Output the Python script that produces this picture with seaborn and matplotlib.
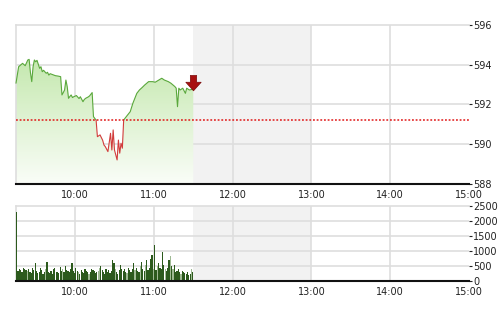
import numpy as np
import matplotlib
matplotlib.use("Agg")
import matplotlib.pyplot as plt
import seaborn as sns
from matplotlib.colors import LinearSegmentedColormap
from matplotlib.patches import Rectangle
from matplotlib.path import Path

# ---- data (time = minutes after 09:00) ----
price_t = [15, 17, 20, 22, 24, 25, 26, 27, 28, 29, 30, 31, 33, 34, 35, 36, 38, 39, 40, 41,
           43, 45, 47, 49, 50, 51, 52, 53, 54, 55, 56, 57, 58, 59, 61, 63, 64, 66, 67, 68,
           70, 71, 73, 74, 75, 76, 77, 79, 81, 82, 83, 85, 87, 88, 89, 90, 92, 93, 94, 95,
           96, 97, 99, 102, 104, 107, 109, 111, 113, 116, 119, 121, 123, 126, 128, 131, 133, 136, 137, 138,
           139, 140, 142, 144, 145, 147, 150]
price_v = [593.07, 593.90, 594.07, 593.95, 594.24, 594.27, 593.60, 593.15, 593.90, 594.24,
           594.15, 594.22, 593.82, 593.90, 593.65, 593.72, 593.57, 593.62, 593.48, 593.55,
           593.50, 593.45, 593.43, 593.40, 592.48, 592.60, 592.73, 593.23, 592.90, 592.31,
           592.40, 592.48, 592.35, 592.39, 592.45, 592.30, 592.39, 592.14, 592.25, 592.31,
           592.38, 592.43, 592.60, 591.39, 591.30, 591.22, 590.38, 590.47, 590.20, 589.96,
           589.88, 589.63, 590.55, 589.71, 590.72, 589.71, 589.21, 590.21, 589.55, 590.05,
           589.80, 591.22, 591.39, 591.64, 592.06, 592.56, 592.73, 592.85, 592.98, 593.15,
           593.15, 593.12, 593.20, 593.32, 593.23, 593.15, 593.07, 592.90, 592.82, 591.89,
           592.82, 592.73, 592.82, 592.56, 592.82, 592.73, 592.77]
ref_price = 591.2

vol_start = 15
volume = [2300, 350, 420, 380, 300, 450, 400, 380, 350, 420, 300, 280, 450, 380, 600, 350, 280, 320, 450, 380,
          250, 300, 420, 650, 300, 280, 350, 250, 400, 450, 320, 300, 280, 480, 350, 400, 300, 520, 380, 350,
          300, 420, 600, 350, 280,
          450, 350, 300, 250, 380, 320, 280, 400, 350, 300, 250, 300, 420, 380, 350, 280, 300, 350, 450, 500,
          380, 300, 250, 400, 320, 380, 280, 350, 700, 600, 400, 300, 250, 380, 550, 420, 350, 400, 300, 280,
          450, 380, 300, 420, 600,
          380, 450, 350, 300, 500, 650, 400, 350, 550, 700, 380, 450, 750, 860, 400, 1200, 380, 500, 600, 450,
          400, 970, 550, 400, 350, 450, 700, 830, 500, 400, 550, 300, 350, 400, 300, 250, 350, 300, 280, 250,
          300, 200, 250, 400, 300]
light_idx = [8, 22, 35, 47, 55, 62, 63, 75, 84, 90, 94, 98, 104, 107, 113, 117, 119, 125, 133]

hour_ticks = [60, 120, 180, 240, 300, 360]
hour_labels = ["10:00", "11:00", "12:00", "13:00", "14:00", "15:00"]
price_ticks = [588, 590, 592, 594, 596]
vol_ticks = [0, 500, 1000, 1500, 2000, 2500]
lunch = (150, 240)

# ---- style ----
sns.set_theme(style="white")
plt.rcParams['font.family'] = ['Liberation Sans Narrow', 'DejaVu Sans']
grid_c = "#dedede"
txt_c = "#222222"

fig = plt.figure(figsize=(5, 3.12), dpi=100)
ax1 = fig.add_axes([0.032, 0.4103, 0.906, 0.5096])
ax2 = fig.add_axes([0.032, 0.0978, 0.906, 0.2429])

def style_axis(ax, yticks, ylim):
    ax.set_xlim(15, 360)
    ax.set_ylim(*ylim)
    ax.axvspan(lunch[0], lunch[1], color="#f2f2f2", zorder=0, lw=0)
    for v in hour_ticks[:-1]:
        ax.axvline(v, color=grid_c, lw=1.2, zorder=0.5)
    for v in yticks[1:-1]:
        ax.axhline(v, color=grid_c, lw=1.2, zorder=0.5)
    ax.set_xticks(hour_ticks)
    ax.set_xticklabels(hour_labels)
    ax.set_yticks(yticks)
    ax.yaxis.tick_right()
    ax.tick_params(axis="x", length=0, pad=4, labelsize=7, colors=txt_c)
    ax.tick_params(axis="y", length=2, width=0.8, pad=1, labelsize=7, colors=txt_c,
                   direction="out", left=False, right=True)
    ax.spines["top"].set_color(grid_c)
    ax.spines["top"].set_linewidth(1.2)
    ax.spines["left"].set_color(grid_c)
    ax.spines["left"].set_linewidth(1.2)
    ax.spines["right"].set_visible(False)
    ax.spines["bottom"].set_color("#111111")
    ax.spines["bottom"].set_linewidth(1.5)
    ax.spines["bottom"].set_zorder(5)
    ax.set_xlabel("")
    ax.set_ylabel("")
    ax.set_facecolor("white")

style_axis(ax1, price_ticks, (588, 596))
style_axis(ax2, vol_ticks, (0, 2500))

# ---- price panel ----
t = np.array(price_t, dtype=float)
p = np.array(price_v, dtype=float)
poly = ax1.fill_between(t, p, 588, color="none", lw=0)
cmap = LinearSegmentedColormap.from_list("g", ["#fafdf8", "#e0f3d4", "#c4e8ae"])
grad = np.linspace(0, 1, 256).reshape(-1, 1)
im = ax1.imshow(grad, extent=[15, 150, 588, 594.3], origin="lower", cmap=cmap,
                aspect="auto", zorder=1)
im.set_clip_path(poly.get_paths()[0], transform=ax1.transData)
ax1.set_xlim(15, 360)
ax1.set_ylim(588, 596)

sns.lineplot(x=t, y=p, ax=ax1, color="#5aa83c", lw=0.8, zorder=3)
line_g = ax1.lines[-1]
rect_up = Rectangle((0, ref_price), 400, 10, transform=ax1.transData)
line_g.set_clip_path(rect_up)
sns.lineplot(x=t, y=p, ax=ax1, color="#d23c3c", lw=0.8, zorder=3)
line_r = ax1.lines[-1]
rect_dn = Rectangle((0, 580), 400, ref_price - 580, transform=ax1.transData)
line_r.set_clip_path(rect_dn)

ax1.axhline(ref_price, color="#e01818", lw=1.1, ls=(0, (1.2, 1.2)), zorder=4)

arrow = Path([(-0.35, 1.0), (0.35, 1.0), (0.35, 0.25), (0.85, 0.25), (0.0, -0.7),
              (-0.85, 0.25), (-0.35, 0.25), (-0.35, 1.0)])
ax1.plot([price_t[-1]], [593.03], marker=arrow, markersize=13, color="#a81010",
         markeredgecolor="#7a0a0a", markeredgewidth=0.5, zorder=5, ls="none")

# ---- volume panel ----
vt = np.arange(vol_start, vol_start + len(volume))
cols = ["#9fba94" if i in light_idx else "#2c5a1d" for i in range(len(volume))]
ax2.bar(vt + 0.6, volume, width=0.92, color=cols, lw=0, zorder=4)

fig.savefig("out.png", dpi=100)
